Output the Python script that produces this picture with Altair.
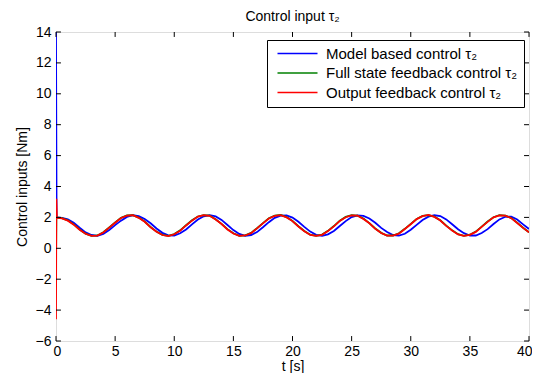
import altair as alt
import pandas as pd

# ---- data ----
series_names = ["Model based control τ₂", "Full state feedback control τ₂", "Output feedback control τ₂"]
colors = ["#0000ff", "#008000", "#ff0000"]

time = [0.5, 1.0, 1.5, 2.0, 2.5, 3.0, 3.5, 4.0, 4.5, 5.0, 5.5, 6.0, 6.5, 7.0, 7.5, 8.0,
        8.5, 9.0, 9.5, 10.0, 10.5, 11.0, 11.5, 12.0, 12.5, 13.0, 13.5, 14.0, 14.5, 15.0,
        15.5, 16.0, 16.5, 17.0, 17.5, 18.0, 18.5, 19.0, 19.5, 20.0, 20.5, 21.0, 21.5, 22.0,
        22.5, 23.0, 23.5, 24.0, 24.5, 25.0, 25.5, 26.0, 26.5, 27.0, 27.5, 28.0, 28.5, 29.0,
        29.5, 30.0, 30.5, 31.0, 31.5, 32.0, 32.5, 33.0, 33.5, 34.0, 34.5, 35.0, 35.5, 36.0,
        36.5, 37.0, 37.5, 38.0, 38.5, 39.0, 39.5, 40.0]

model_based = [1.97, 1.87, 1.65, 1.33, 1.03, 0.86, 0.81, 0.93, 1.18, 1.50, 1.79, 2.03, 2.14, 2.08,
               1.90, 1.62, 1.28, 1.00, 0.84, 0.82, 0.97, 1.22, 1.55, 1.86, 2.07, 2.14, 2.06, 1.84,
               1.51, 1.18, 0.93, 0.81, 0.86, 1.05, 1.36, 1.69, 1.97, 2.12, 2.13, 1.99, 1.72, 1.39,
               1.08, 0.87, 0.81, 0.90, 1.12, 1.44, 1.76, 2.02, 2.13, 2.10, 1.93, 1.65, 1.32, 1.05,
               0.86, 0.82, 0.94, 1.20, 1.52, 1.83, 2.05, 2.14, 2.09, 1.87, 1.56, 1.23, 0.98, 0.83,
               0.83, 0.99, 1.24, 1.57, 1.87, 2.04, 2.05, 1.86, 1.55, 1.25]

full_state = [1.95, 1.81, 1.55, 1.22, 0.95, 0.81, 0.83, 1.04, 1.35, 1.67, 1.97, 2.13, 2.15, 1.99,
              1.73, 1.38, 1.08, 0.87, 0.80, 0.92, 1.16, 1.49, 1.81, 2.06, 2.15, 2.11, 1.88, 1.58,
              1.24, 0.97, 0.81, 0.84, 1.00, 1.30, 1.63, 1.94, 2.12, 2.16, 2.02, 1.77, 1.43, 1.12,
              0.88, 0.81, 0.89, 1.13, 1.44, 1.78, 2.03, 2.14, 2.12, 1.92, 1.63, 1.28, 1.00, 0.83,
              0.83, 0.97, 1.26, 1.58, 1.90, 2.10, 2.15, 2.05, 1.81, 1.47, 1.16, 0.91, 0.81, 0.88,
              1.08, 1.40, 1.73, 2.01, 2.14, 2.12, 1.96, 1.66, 1.33, 1.04]

output_fb = [1.93, 1.79, 1.53, 1.20, 0.94, 0.80, 0.82, 1.02, 1.34, 1.65, 1.96, 2.11, 2.14, 1.97,
             1.72, 1.36, 1.07, 0.86, 0.79, 0.91, 1.14, 1.48, 1.79, 2.05, 2.14, 2.10, 1.86, 1.57,
             1.22, 0.96, 0.80, 0.83, 0.98, 1.29, 1.61, 1.93, 2.10, 2.15, 2.00, 1.76, 1.41, 1.11,
             0.86, 0.80, 0.87, 1.12, 1.42, 1.77, 2.01, 2.13, 2.11, 1.90, 1.62, 1.26, 0.99, 0.82,
             0.82, 0.95, 1.25, 1.56, 1.89, 2.08, 2.16, 2.03, 1.80, 1.45, 1.15, 0.90, 0.80, 0.87,
             1.06, 1.39, 1.71, 2.00, 2.13, 2.11, 1.95, 1.64, 1.32, 1.03]

# initial transients at t = 0
model_spike_t = [0.0, 0.05]
model_spike_v = [14.0, 2.0]
full_spike_t = [0.0, 0.03]
full_spike_v = [-1.0, 2.0]
output_spike_t = [0.0, 0.03, 0.08]
output_spike_v = [-4.6, 3.2, 1.98]

x_ticks = [0, 5, 10, 15, 20, 25, 30, 35, 40]
y_ticks = [-6, -4, -2, 0, 2, 4, 6, 8, 10, 12, 14]

# ---- build tables ----
def series_df(name, st, sv, vals):
    return pd.DataFrame({"t": st + time, "v": sv + vals, "series": name})

df_model = series_df(series_names[0], model_spike_t, model_spike_v, model_based)
df_full = series_df(series_names[1], full_spike_t, full_spike_v, full_state)
df_out = series_df(series_names[2], output_spike_t, output_spike_v, output_fb)

FONT = "Liberation Sans"
FS = 14

x_scale = alt.Scale(domain=[0, 40], nice=False, zero=False)
y_scale = alt.Scale(domain=[-6, 14], nice=False, zero=False)
color_scale = alt.Scale(domain=series_names, range=colors)

x_axis = alt.Axis(values=x_ticks, ticks=False, domain=False, grid=False, labelPadding=3,
                  labelFlush=True, labelFlushOffset=3, labelFontSize=FS, labelFont=FONT,
                  labelColor="black", title="t [s]", titleFont=FONT, titleFontSize=FS,
                  titleFontWeight="normal", titleColor="black", titlePadding=1)
y_axis = alt.Axis(values=y_ticks, ticks=False, domain=False, grid=False, labelPadding=5,
                  labelFlush=False, labelFontSize=FS, labelFont=FONT, labelColor="black",
                  title="Control inputs [Nm]", titleFont=FONT, titleFontSize=FS,
                  titleFontWeight="normal", titleColor="black", titlePadding=6)

legend = alt.Legend(title=None, orient="none", legendX=211, legendY=8,
                    strokeColor="black", fillColor="white", padding=6,
                    symbolType="M-0.6,0H7.4", symbolSize=100, symbolStrokeWidth=1.5,
                    labelFont=FONT, labelFontSize=15, labelColor="black",
                    labelOffset=38, rowPadding=3.5, labelLimit=400)


def line_layer(df):
    return alt.Chart(df).mark_line(strokeWidth=1.8, clip=True).encode(
        x=alt.X("t:Q", scale=x_scale, axis=x_axis),
        y=alt.Y("v:Q", scale=y_scale, axis=y_axis),
        color=alt.Color("series:N", scale=color_scale, legend=legend),
    )

# inward tick marks on all four sides
xt_df = pd.DataFrame({"x": x_ticks * 2,
                      "y0": [-6] * len(x_ticks) + [14] * len(x_ticks),
                      "y1": [-5.68] * len(x_ticks) + [13.68] * len(x_ticks)})
yt_df = pd.DataFrame({"y": y_ticks * 2,
                      "x0": [0] * len(y_ticks) + [40] * len(y_ticks),
                      "x1": [0.42] * len(y_ticks) + [39.58] * len(y_ticks)})

xticks_layer = alt.Chart(xt_df).mark_rule(color="black", strokeWidth=1).encode(
    x=alt.X("x:Q", scale=x_scale, axis=x_axis),
    y=alt.Y("y0:Q", scale=y_scale, axis=y_axis),
    y2="y1:Q",
)
yticks_layer = alt.Chart(yt_df).mark_rule(color="black", strokeWidth=1).encode(
    y=alt.Y("y:Q", scale=y_scale, axis=y_axis),
    x=alt.X("x0:Q", scale=x_scale, axis=x_axis),
    x2="x1:Q",
)

chart = alt.layer(
    line_layer(df_model), line_layer(df_full), line_layer(df_out),
    xticks_layer, yticks_layer,
).properties(
    width=473, height=309,
    title=alt.TitleParams("Control input τ₂", font=FONT, fontSize=FS, fontWeight="normal",
                          color="black", offset=1),
    autosize=alt.AutoSizeParams(type="none"),
    padding={"left": 48, "top": 24, "right": 3, "bottom": 32},
).configure_view(
    stroke="black", strokeWidth=1.2
).configure(background="white")

chart.save("out.html", embed_options={"renderer": "svg", "actions": False})
